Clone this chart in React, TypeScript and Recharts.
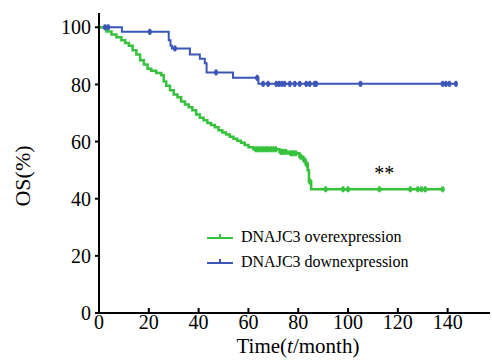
import React from "react";
import { LineChart, Line, XAxis, YAxis, ReferenceDot } from "recharts";

// DNAJC3 overexpression (green): event times and survival after each event
const overEventTime = [0, 3, 5, 7, 9, 10.5, 12, 13.5, 15, 16.5, 18, 19.5, 21, 23, 25, 26, 27, 28.5, 30, 31.5, 33, 34.5, 36, 37.5, 39, 40.5, 42, 43.5, 45, 46.5, 48, 49.5, 51, 52.5, 54, 55.5, 57, 58.5, 60, 62, 72.5, 76, 80.5, 82, 83, 83.8, 84.3, 85.2];
const overEventSurv = [100, 98.5, 97.5, 96.5, 95.5, 94.5, 93.5, 92, 90.5, 88.5, 87, 85.5, 84.8, 84, 83.2, 81, 79.5, 78, 76.5, 75.5, 74, 73, 72, 71, 69.5, 68.3, 67.5, 66.5, 65.8, 65, 64, 63.2, 62.5, 61.7, 61, 60.3, 59.6, 58.8, 58, 57.3, 56.4, 55.9, 54.7, 53.5, 52, 50, 46, 43.3];
const overCensorTime = [63, 64, 65, 66, 67, 68, 69, 70, 71, 73, 74, 75, 77, 78, 79, 81, 82.5, 83.5, 84.7, 91, 98, 100, 112.6, 125, 128, 129.5, 131, 138];

// DNAJC3 downexpression (blue)
const downEventTime = [0, 9.2, 28, 28.7, 29.3, 36.5, 40.5, 42.5, 43.2, 53.8, 64];
const downEventSurv = [100, 98.4, 95.5, 93.5, 92.6, 90.5, 89, 87.4, 84.2, 82.3, 80.2];
const downCensorTime = [2.4, 3.7, 20.4, 30.5, 47, 63.5, 65.9, 67.9, 71.2, 72.3, 73.4, 74.5, 76.6, 78.6, 80.6, 83.2, 84.6, 86.6, 87.2, 105, 138, 139.3, 140.7, 143.3];

const seriesNames = ["DNAJC3 overexpression", "DNAJC3 downexpression"];
const seriesColors = ["#36c23c", "#3b56b6"];

const xTicks = [0, 20, 40, 60, 80, 100, 120, 140];
const yTicks = [0, 20, 40, 60, 80, 100];

type Pt = { t: number; s: number; c: boolean };

function buildCurve(evT: number[], evS: number[], cT: number[]): Pt[] {
  const pts: Pt[] = evT.map((t, i) => ({ t, s: evS[i], c: false }));
  cT.forEach((c) => {
    let s = evS[0];
    for (let i = 0; i < evT.length; i++) if (evT[i] <= c) s = evS[i];
    pts.push({ t: c, s, c: true });
  });
  pts.sort((a, b) => a.t - b.t || (a.c ? 1 : 0) - (b.c ? 1 : 0));
  return pts;
}

const overData = buildCurve(overEventTime, overEventSurv, overCensorTime);
const downData = buildCurve(downEventTime, downEventSurv, downCensorTime);

const FONT = "'Liberation Serif', 'Times New Roman', serif";

const makeDot = (color: string) => (props: any) => {
  const { cx, cy, payload, index } = props;
  if (!payload || !payload.c || cx == null || cy == null) return <g key={`d${index}`} />;
  return (
    <g key={`d${index}`}>
      <line x1={cx} x2={cx} y1={cy - 3} y2={cy + 3} stroke={color} strokeWidth={2.5} />
      <line x1={cx - 2} x2={cx + 2} y1={cy} y2={cy} stroke={color} strokeWidth={3.5} />
    </g>
  );
};

const XTick = (props: any) => {
  const { x, y, payload } = props;
  return (
    <g>
      <line x1={x} x2={x} y1={y - 5} y2={y} stroke="#000" strokeWidth={2} />
      <text x={x} y={y + 16} textAnchor="middle" fontSize={20} fontFamily={FONT} fill="#000">
        {payload.value}
      </text>
    </g>
  );
};

const LegendIcon = ({ color }: { color: string }) => (
  <svg width={28} height={10} style={{ display: "block" }}>
    <line x1={0} x2={26} y1={6} y2={6} stroke={color} strokeWidth={2} />
    <line x1={13} x2={13} y1={2} y2={6} stroke={color} strokeWidth={2} />
  </svg>
);

export default function App() {
  return (
    <div style={{ position: "absolute", left: 0, top: 0, width: 492, height: 363, background: "#fff" }}>
      <LineChart width={492} height={363} margin={{ top: 13, right: 2, left: 0, bottom: 0 }}>
        <XAxis
          dataKey="t"
          type="number"
          domain={[0, 157]}
          ticks={xTicks}
          allowDataOverflow
          height={50}
          tickSize={0}
          tickMargin={0}
          tickLine={false}
          axisLine={{ stroke: "#000", strokeWidth: 2 }}
          tick={<XTick />}
          label={{
            content: () => (
              <text x={298} y={353} textAnchor="middle" fontSize={21} fontFamily={FONT} fill="#000">
                Time(<tspan fontStyle="italic">t</tspan>/month)
              </text>
            ),
          }}
        />
        <YAxis
          type="number"
          domain={[0, 105]}
          ticks={yTicks}
          allowDataOverflow
          width={99}
          tickSize={4}
          tickMargin={4}
          tickLine={{ stroke: "#000", strokeWidth: 2 }}
          axisLine={{ stroke: "#000", strokeWidth: 2 }}
          tick={{ fontSize: 20, fontFamily: FONT, fill: "#000" }}
          label={{
            content: () => (
              <text
                x={22}
                y={176}
                transform="rotate(-90 22 176)"
                textAnchor="middle"
                dominantBaseline="central"
                fontSize={22}
                fontFamily={FONT}
                fill="#000"
              >
                OS(%)
              </text>
            ),
          }}
        />
        <Line
          data={downData}
          dataKey="s"
          type="stepAfter"
          stroke={seriesColors[1]}
          strokeWidth={2}
          dot={makeDot(seriesColors[1])}
          activeDot={false}
          isAnimationActive={false}
        />
        <Line
          data={overData}
          dataKey="s"
          type="stepAfter"
          stroke={seriesColors[0]}
          strokeWidth={2.5}
          dot={makeDot(seriesColors[0])}
          activeDot={false}
          isAnimationActive={false}
        />
        <ReferenceDot
          x={114.5}
          y={49.2}
          r={0}
          fill="none"
          stroke="none"
          label={{ value: "**", position: "center", fontSize: 20, fontFamily: FONT, fill: "#000" }}
        />
      </LineChart>
      <div style={{ position: "absolute", left: 207, top: 224, fontFamily: FONT, fontSize: 16, color: "#000" }}>
        {seriesNames.map((n, i) => (
          <div key={n} style={{ display: "flex", alignItems: "center", height: 25 }}>
            <LegendIcon color={seriesColors[i]} />
            <span style={{ marginLeft: 6 }}>{n}</span>
          </div>
        ))}
      </div>
    </div>
  );
}
